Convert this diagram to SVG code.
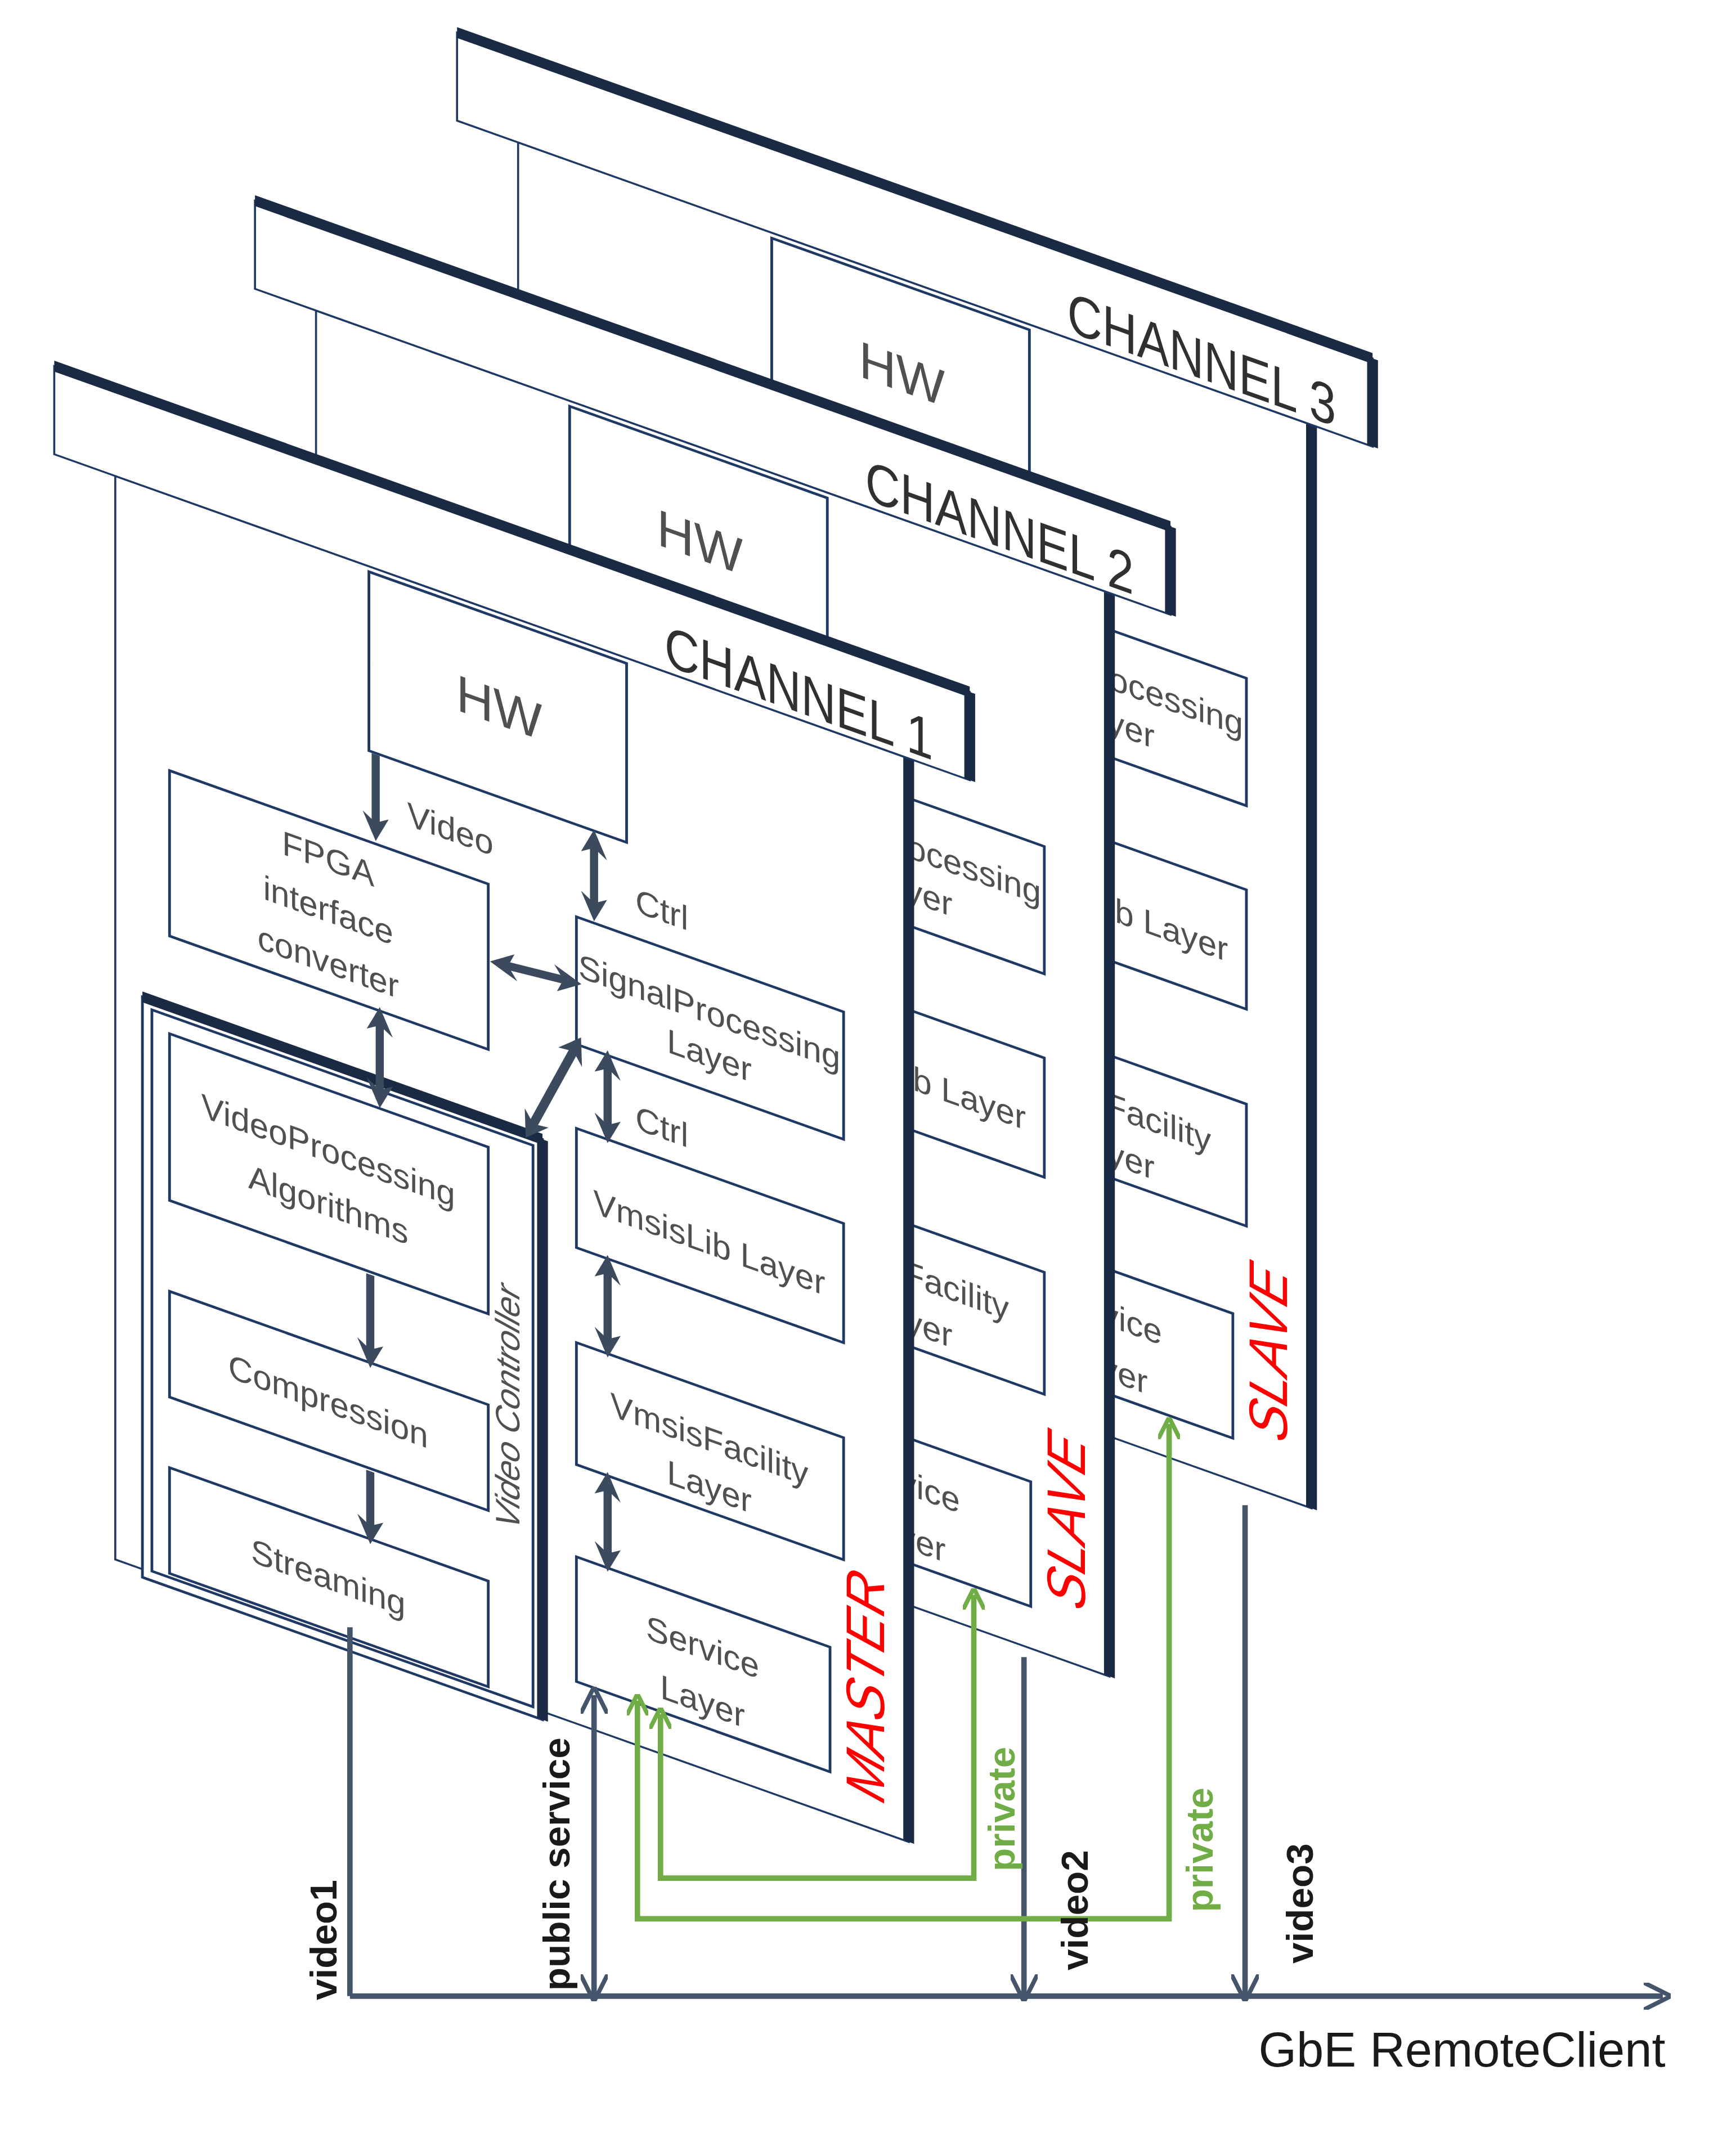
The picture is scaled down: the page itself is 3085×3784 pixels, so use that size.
<svg xmlns="http://www.w3.org/2000/svg" width="3085" height="3784" viewBox="0 0 3085 3784">
<defs>
<marker id="ah" viewBox="0 0 10 10" refX="7" refY="5" markerWidth="3.2" markerHeight="3.2" orient="auto-start-reverse"><path d="M0,0 L10,5 L0,10 L3,5 z" fill="#3c4a5e"/></marker>
<marker id="gh" viewBox="0 0 10 10" refX="7" refY="5" markerWidth="4" markerHeight="4" orient="auto-start-reverse"><path d="M0,0 L10,5 L0,10" fill="none" stroke="#70ad47" stroke-width="2"/></marker>
<marker id="bh" viewBox="0 0 10 10" refX="7" refY="5" markerWidth="5" markerHeight="5" orient="auto-start-reverse"><path d="M0,0 L10,5 L0,10" fill="none" stroke="#44546a" stroke-width="1.6"/></marker>
</defs>
<style>
.hd{fill:#fff;stroke:#1f3864;stroke-width:1.5}
.pn{fill:#fff;stroke:#1f3864;stroke-width:1.5}
.bx{fill:#fff;stroke:#1f3864;stroke-width:2}
.thick{stroke:#1a2a45;stroke-width:8;fill:none}
.t{font-family:"Liberation Sans",Arial,sans-serif;fill:#505050;text-anchor:middle}
.bt{font-size:25px}
.ch{font-size:42px;fill:#303030}
.red{font-family:"Liberation Sans",Arial,sans-serif;font-style:italic;font-size:40px;fill:#ff0000;text-anchor:middle}
.ar{stroke:#3c4a5e;stroke-width:6;fill:none}
.bl{stroke:#44546a;stroke-width:4;fill:none}
.gl{stroke:#70ad47;stroke-width:4;fill:none}
.lb{font-family:"Liberation Sans",Arial,sans-serif;font-weight:bold;font-size:28px;fill:#1a1a1a}
.gr{font-family:"Liberation Sans",Arial,sans-serif;font-weight:bold;font-size:28px;fill:#70ad47}
</style>
<rect width="3085" height="3784" fill="#fff"/>
<g transform="scale(2.4102)">
<g id="channel3" transform="translate(337,24) matrix(1,0.356,0,1,0,0)">
<rect class="pn" x="45" y="65" width="585" height="799"/>
<line class="thick" x1="630" y1="65" x2="630" y2="864"/>
<rect class="bx" x="232" y="69" width="190" height="132"/>
<text class="t" x="328" y="148" font-size="38">HW</text>
<rect class="bx" x="385" y="269" width="197" height="94"/><text class="t bt" x="483" y="313">SignalProcessing</text><text class="t bt" x="483" y="345">Layer</text>
<rect class="bx" x="385" y="425" width="197" height="88"/><text class="t bt" x="483" y="483">VmsisLib Layer</text>
<rect class="bx" x="385" y="583" width="197" height="90"/><text class="t bt" x="483" y="628">VmsisFacility</text><text class="t bt" x="483" y="663">Layer</text>
<rect class="bx" x="385" y="741" width="187" height="92"/><text class="t bt" x="478" y="783">Service</text><text class="t bt" x="478" y="823">Layer</text>
<text class="red" transform="translate(612,760) rotate(-90)">SLAVE</text>
<rect class="hd" x="0" y="0" width="675" height="65"/>
<line class="thick" x1="0" y1="0" x2="675" y2="0"/><line class="thick" x1="675" y1="0" x2="675" y2="65" stroke-width="10"/>
<text class="t ch" x="648" y="60" style="text-anchor:end" textLength="198" lengthAdjust="spacingAndGlyphs">CHANNEL 3</text>
</g>
<g id="channel2" transform="translate(188,148) matrix(1,0.356,0,1,0,0)">
<rect class="pn" x="45" y="65" width="585" height="799"/>
<line class="thick" x1="630" y1="65" x2="630" y2="864"/>
<rect class="bx" x="232" y="69" width="190" height="132"/>
<text class="t" x="328" y="148" font-size="38">HW</text>
<rect class="bx" x="385" y="269" width="197" height="94"/><text class="t bt" x="483" y="313">SignalProcessing</text><text class="t bt" x="483" y="345">Layer</text>
<rect class="bx" x="385" y="425" width="197" height="88"/><text class="t bt" x="483" y="483">VmsisLib Layer</text>
<rect class="bx" x="385" y="583" width="197" height="90"/><text class="t bt" x="483" y="628">VmsisFacility</text><text class="t bt" x="483" y="663">Layer</text>
<rect class="bx" x="385" y="741" width="187" height="92"/><text class="t bt" x="478" y="783">Service</text><text class="t bt" x="478" y="823">Layer</text>
<text class="red" transform="translate(612,760) rotate(-90)">SLAVE</text>
<rect class="hd" x="0" y="0" width="675" height="65"/>
<line class="thick" x1="0" y1="0" x2="675" y2="0"/><line class="thick" x1="675" y1="0" x2="675" y2="65" stroke-width="10"/>
<text class="t ch" x="648" y="60" style="text-anchor:end" textLength="198" lengthAdjust="spacingAndGlyphs">CHANNEL 2</text>
</g>
<g id="channel1" transform="translate(40,270) matrix(1,0.356,0,1,0,0)">
<rect class="pn" x="45" y="65" width="585" height="799"/>
<line class="thick" x1="630" y1="65" x2="630" y2="864"/>
<rect class="bx" x="232" y="69" width="190" height="132"/>
<text class="t" x="328" y="148" font-size="38">HW</text>
<rect class="bx" x="85" y="268" width="235" height="122"/>
<text class="t bt" x="202" y="300">FPGA</text><text class="t bt" x="202" y="338">interface</text><text class="t bt" x="202" y="376">converter</text>
<rect class="bx" x="65" y="442" width="295" height="428"/>
<rect class="bx" x="72" y="449" width="281" height="414" fill="none"/>
<line class="thick" x1="65" y1="442" x2="360" y2="442" stroke-width="4"/>
<line class="thick" x1="360" y1="442" x2="360" y2="870" stroke-width="4"/>
<text class="t" font-style="italic" font-size="25" transform="translate(343,648) rotate(-90)">Video Controller</text>
<rect class="bx" x="85" y="462" width="235" height="123"/><text class="t bt" x="202" y="515">VideoProcessing</text><text class="t bt" x="202" y="555">Algorithms</text>
<rect class="bx" x="85" y="652" width="235" height="78"/><text class="t bt" x="202" y="700">Compression</text>
<rect class="bx" x="85" y="782" width="235" height="78"/><text class="t bt" x="202" y="830">Streaming</text>
<rect class="bx" x="385" y="269" width="197" height="94"/><text class="t bt" x="483" y="313">SignalProcessing</text><text class="t bt" x="483" y="345">Layer</text>
<rect class="bx" x="385" y="425" width="197" height="88"/><text class="t bt" x="483" y="483">VmsisLib Layer</text>
<rect class="bx" x="385" y="583" width="197" height="90"/><text class="t bt" x="483" y="628">VmsisFacility</text><text class="t bt" x="483" y="663">Layer</text>
<rect class="bx" x="385" y="741" width="187" height="92"/><text class="t bt" x="478" y="783">Service</text><text class="t bt" x="478" y="823">Layer</text>
<text class="red" transform="translate(612,760) rotate(-90)">MASTER</text>
<g id="inner-connectors">
<line class="ar" x1="237" y1="202" x2="237" y2="260" marker-end="url(#ah)"/>
<text class="t bt" x="292" y="246">Video</text>
<line class="ar" x1="398" y1="206" x2="398" y2="262" marker-start="url(#ah)" marker-end="url(#ah)"/>
<text class="t bt" x="448" y="250">Ctrl</text>
<line class="ar" x1="327" y1="324" x2="383" y2="318" marker-start="url(#ah)" marker-end="url(#ah)"/>
<line class="ar" x1="240" y1="393" x2="240" y2="456" marker-start="url(#ah)" marker-end="url(#ah)"/>
<line class="ar" x1="386" y1="362" x2="350" y2="440" marker-start="url(#ah)" marker-end="url(#ah)"/>
<line class="ar" x1="408" y1="365" x2="408" y2="422" marker-start="url(#ah)" marker-end="url(#ah)"/>
<text class="t bt" x="448" y="410">Ctrl</text>
<line class="ar" x1="408" y1="516" x2="408" y2="580" marker-start="url(#ah)" marker-end="url(#ah)"/>
<line class="ar" x1="408" y1="676" x2="408" y2="738" marker-start="url(#ah)" marker-end="url(#ah)"/>
<line class="ar" x1="233" y1="587" x2="233" y2="650" marker-end="url(#ah)"/>
<line class="ar" x1="233" y1="732" x2="233" y2="780" marker-end="url(#ah)"/>
</g>
<rect class="hd" x="0" y="0" width="675" height="65"/>
<line class="thick" x1="0" y1="0" x2="675" y2="0"/><line class="thick" x1="675" y1="0" x2="675" y2="65" stroke-width="10"/>
<text class="t ch" x="648" y="60" style="text-anchor:end" textLength="198" lengthAdjust="spacingAndGlyphs">CHANNEL 1</text>
</g>
<g id="connectors">
<line class="bl" x1="258" y1="1472" x2="1226" y2="1472" marker-end="url(#bh)"/>
<line class="bl" x1="258" y1="1200" x2="258" y2="1472"/>
<line class="bl" x1="438" y1="1250" x2="438" y2="1470" marker-start="url(#bh)" marker-end="url(#bh)"/>
<line class="bl" x1="755" y1="1222" x2="755" y2="1470" marker-end="url(#bh)"/>
<line class="bl" x1="918" y1="1110" x2="918" y2="1470" marker-end="url(#bh)"/>
<polyline class="gl" points="487,1264 487,1385 718,1385 718,1176" marker-start="url(#gh)" marker-end="url(#gh)"/>
<polyline class="gl" points="470,1254 470,1415 862,1415 862,1050" marker-start="url(#gh)" marker-end="url(#gh)"/>
</g>
<text class="lb" transform="translate(248,1475) rotate(-90)">video1</text>
<text class="lb" transform="translate(420,1468) rotate(-90)">public service</text>
<text class="lb" transform="translate(802,1453) rotate(-90)">video2</text>
<text class="lb" transform="translate(968,1448) rotate(-90)">video3</text>
<text class="gr" transform="translate(748,1380) rotate(-90)">private</text>
<text class="gr" transform="translate(894,1410) rotate(-90)">private</text>
<text x="1228" y="1524" font-family="Liberation Sans, Arial, sans-serif" font-size="36" fill="#1a1a1a" text-anchor="end">GbE RemoteClient</text>
</g>
</svg>
